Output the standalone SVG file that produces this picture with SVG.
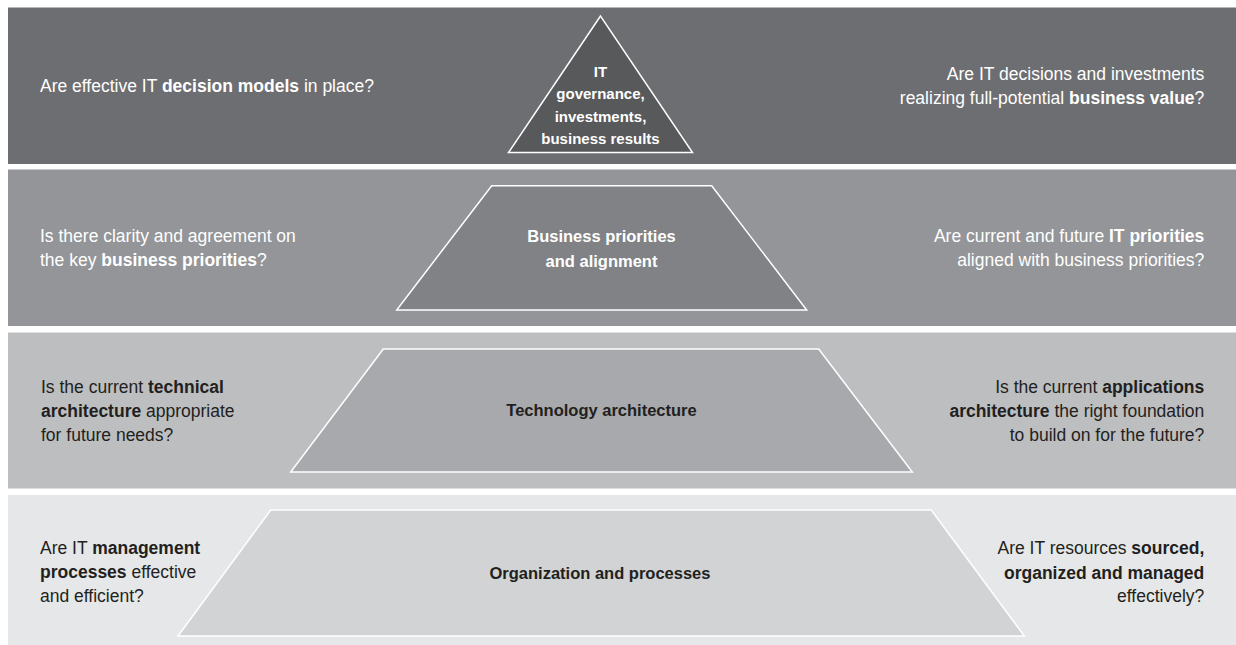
<svg xmlns="http://www.w3.org/2000/svg" width="1236" height="645" viewBox="0 0 1236 645">
  <style>
    text { font-family: "Liberation Sans", Arial, sans-serif; }
    .side { font-size: 17.5px; }
    .core { font-size: 16.5px; font-weight: bold; text-anchor: middle; }
    .apex { font-size: 15px; font-weight: bold; text-anchor: middle; fill: #ffffff; }
    .light { fill: #ffffff; }
    .dark { fill: #231f20; }
    .end { text-anchor: end; }
    b, .b { font-weight: bold; }
    .shape { stroke: #ffffff; stroke-width: 1.5; stroke-linejoin: miter; }
  </style>

  <rect width="1236" height="645" fill="#ffffff"/>

  <!-- Level 1: governance -->
  <g id="level-governance">
    <rect x="8" y="7.5" width="1228" height="156.5" fill="#6d6e71"/>
    <polygon class="shape" points="600.5,16 508.5,152.5 692.5,152.5" fill="#58595b"/>
    <text class="apex" x="600.5" y="76.5">IT</text>
    <text class="apex" x="600.5" y="99">governance,</text>
    <text class="apex" x="600.5" y="121.5">investments,</text>
    <text class="apex" x="600.5" y="144">business results</text>
    <text class="side light" x="40" y="92.3">Are effective IT <tspan class="b">decision models</tspan> in place?</text>
    <text class="side light end" x="1204.3" y="79.5">Are IT decisions and investments</text>
    <text class="side light end" x="1204.3" y="103.5">realizing full-potential <tspan class="b">business value</tspan>?</text>
  </g>

  <!-- Level 2: business priorities -->
  <g id="level-business">
    <rect x="8" y="169.5" width="1228" height="156.5" fill="#939598"/>
    <polygon class="shape" points="491.7,185.7 711.7,185.7 806.7,310 396.7,310" fill="#808285"/>
    <text class="core light" x="601.5" y="242.3">Business priorities</text>
    <text class="core light" x="601.5" y="266.5">and alignment</text>
    <text class="side light" x="40" y="242.3">Is there clarity and agreement on</text>
    <text class="side light" x="40" y="266.3">the key <tspan class="b">business priorities</tspan>?</text>
    <text class="side light end" x="1204.3" y="242.3">Are current and future <tspan class="b">IT priorities</tspan></text>
    <text class="side light end" x="1204.3" y="266.3">aligned with business priorities?</text>
  </g>

  <!-- Level 3: technology -->
  <g id="level-technology">
    <rect x="8" y="332.5" width="1228" height="156" fill="#bcbec0"/>
    <polygon class="shape" points="383.3,349 818.7,349 912.3,472 290.7,472" fill="#a7a9ac"/>
    <text class="core dark" x="601.5" y="416">Technology architecture</text>
    <text class="side dark" x="41" y="393.3">Is the current <tspan class="b">technical</tspan></text>
    <text class="side dark" x="41" y="417.3"><tspan class="b">architecture</tspan> appropriate</text>
    <text class="side dark" x="41" y="441">for future needs?</text>
    <text class="side dark end" x="1204.3" y="393.3">Is the current <tspan class="b">applications</tspan></text>
    <text class="side dark end" x="1204.3" y="417.3"><tspan class="b">architecture</tspan> the right foundation</text>
    <text class="side dark end" x="1204.3" y="441">to build on for the future?</text>
  </g>

  <!-- Level 4: organization -->
  <g id="level-organization">
    <rect x="8" y="495" width="1228" height="150" fill="#e6e7e8"/>
    <polygon class="shape" points="270.7,510 931.3,510 1024.3,636 178,636" fill="#d1d3d4"/>
    <text class="core dark" x="600" y="579.3">Organization and processes</text>
    <text class="side dark" x="40" y="554.3">Are IT <tspan class="b">management</tspan></text>
    <text class="side dark" x="40" y="578.3"><tspan class="b">processes</tspan> effective</text>
    <text class="side dark" x="40" y="601.7">and efficient?</text>
    <text class="side dark end" x="1204.3" y="554.3">Are IT resources <tspan class="b">sourced,</tspan></text>
    <text class="side dark end" x="1204.3" y="578.5"><tspan class="b">organized and managed</tspan></text>
    <text class="side dark end" x="1204.3" y="601.7">effectively?</text>
  </g>

  <!-- no connectors in this figure -->
  <g id="connectors"/>
</svg>
